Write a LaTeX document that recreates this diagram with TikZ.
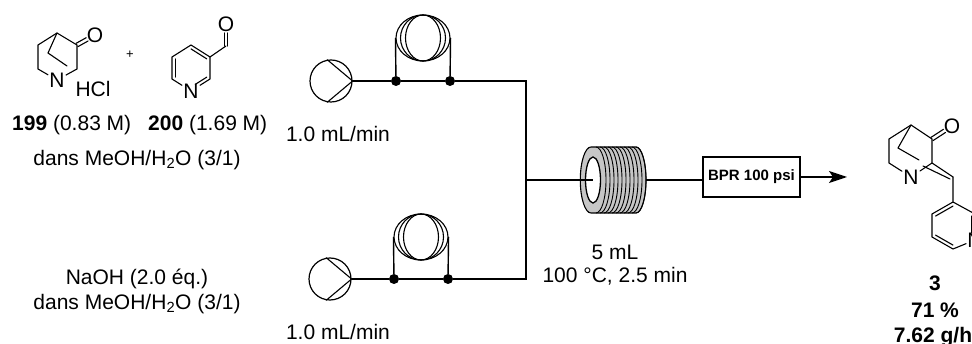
\documentclass[tikz,border=0pt]{standalone}
\usepackage{fontspec}
\setmainfont{Liberation Sans}
\usetikzlibrary{shapes.geometric, arrows.meta, positioning, calc}

% double bond to an atom label, both lines off the axis
\newcommand{\dblbond}[2]{%
  \draw[bond, shorten >=9pt] ($(#1)!1.9pt!90:(#2)$) -- ($(#2)!1.9pt!-90:(#1)$);
  \draw[bond, shorten >=9pt] ($(#1)!1.9pt!-90:(#2)$) -- ($(#2)!1.9pt!90:(#1)$);}
% inner line of a ring double bond, pulled towards the ring centre
\newcommand{\ringbond}[4][0pt]{%
  \draw[bond, shorten >=#1] ($(#3)!0.17!(#2)$) -- ($(#4)!0.17!(#2)$);}

\begin{document}
\begin{tikzpicture}[
    x=1pt, y=-1pt, on grid,
    lab/.style   = {inner sep=0pt, font=\fontsize{21}{25}\selectfont, align=center},
    atom/.style  = {inner sep=1.2pt, font=\fontsize{21}{25}\selectfont},
    bond/.style  = {line width=1.1pt, line cap=round},
    tube/.style  = {line width=1.4pt},
    pump/.style  = {draw, circle, line width=1.2pt, minimum size=42pt, inner sep=0pt},
    dot/.style   = {circle, fill=black, minimum size=10pt, inner sep=0pt},
    coil/.style  = {draw, ellipse, line width=1.1pt, minimum height=46pt, inner sep=0pt},
    arrow/.style = {-{Stealth[length=18pt, width=12pt, inset=4pt]}, line width=1.5pt}
  ]
  \useasboundingbox (0,0) rectangle (972,344);
  \fill[white] (0,0) rectangle (972,344);
  \clip (0,0) rectangle (972,344);

  % Upper pump line
  \node[pump] (pumpA) at (331,81) {};
  \node[dot, right=65pt of pumpA] (jA1) {};
  \node[dot, right=54pt of jA1] (jA2) {};
  \node[coil, minimum width=54pt, above right=43pt and 27pt of jA1] (coilA) {};
  \node[coil, minimum width=45pt, above right=43pt and 27pt of jA1] (coilAm) {};
  \node[coil, minimum width=35pt, above right=43pt and 27pt of jA1] (coilAi) {};
  \coordinate (cornerA) at (526,81);

  % Lower pump line
  \node[pump] (pumpB) at (330,279) {};
  \node[dot, right=64pt of pumpB] (jB1) {};
  \node[dot, right=54pt of jB1] (jB2) {};
  \node[coil, minimum width=54pt, above right=42pt and 27pt of jB1] (coilB) {};
  \node[coil, minimum width=45pt, above right=42pt and 27pt of jB1] (coilBm) {};
  \node[coil, minimum width=35pt, above right=42pt and 27pt of jB1] (coilBi) {};
  \coordinate (cornerB) at (526,279);

  % Pump heads
  \foreach \p in {pumpA, pumpB} {
    \draw[bond] (\p.100) -- (\p.east) -- (\p.260);
  }

  % Tubing
  \draw[tube] (pumpA.east) -- (jA1) -- (jA2) -- (cornerA) -- (cornerB) -- (jB2) -- (jB1) -- (pumpB.east);
  \draw[tube] (coilA.west) -- (jA1);
  \draw[tube] (coilA.east) -- (jA2);
  \draw[tube] (coilB.west) -- (jB1);
  \draw[tube] (coilB.east) -- (jB2);

  % Reactor
  \coordinate (mix) at (526,180);
  \coordinate (reacIn) at (593,180);
  \coordinate (reacOut) at (646,180);
  \path[fill=gray!45, draw, line width=1.1pt]
    (591,147) -- (636,147) arc (-90:90:10 and 33) -- (591,213) arc (90:270:10.7 and 33) -- cycle;
  \foreach \c in {596,600,...,636} {
    \draw[line width=0.9pt] (\c,147) arc (-90:90:10 and 33);
  }
  \draw[fill=white, line width=1.3pt] (593,180) ellipse [x radius=7.5, y radius=23];
  \draw[tube] (mix) -- (reacIn);

  % Back pressure regulator
  \node[draw, line width=1.2pt, minimum width=97pt, minimum height=40pt, inner sep=0pt,
        font=\fontsize{15}{18}\selectfont\bfseries] (bpr) at (751.5,177) {BPR 100 psi};
  \draw[tube] (reacOut) -- (bpr.west |- reacOut);
  \coordinate (arrowEnd) at (847,177);
  \draw[arrow] (bpr.east) -- (arrowEnd);

  % Labels
  \node[lab, anchor=west] (lblA) at (12,125) {\textbf{199} (0.83 M)};
  \node[lab, anchor=west] (lblB) at (148,125) {\textbf{200} (1.69 M)};
  \node[lab] (lblSolvA) at (137,160) {dans MeOH/H\textsubscript{2}O (3/1)};
  \node[lab] (lblBase) at (137,279) {NaOH (2.0 éq.)};
  \node[lab] (lblSolvB) at (137,304) {dans MeOH/H\textsubscript{2}O (3/1)};
  \node[lab] (lblFlowA) at (338,134) {1.0 mL/min};
  \node[lab] (lblFlowB) at (338,332) {1.0 mL/min};
  \node[lab] (lblVol) at (615,252) {5 mL};
  \node[lab, below=24pt of lblVol] (lblCond) {100 °C, 2.5 min};
  \node[lab, font=\fontsize{21}{25}\selectfont\bfseries] (lblNum) at (935,283) {3};
  \node[lab, font=\fontsize{21}{25}\selectfont\bfseries] (lblYield) at (935,310) {71 \%};
  \node[lab, font=\fontsize{21}{25}\selectfont\bfseries] (lblRate) at (933,337) {7.62 g/h};
  \node[inner sep=0pt, font=\fontsize{13}{15}\selectfont] (plus) at (130,55) {+};

  % Quinuclidinone
  \coordinate (kTop) at (57,33);
  \coordinate (kCO) at (77,45);
  \coordinate (kCb) at (77,69);
  \coordinate (kLb) at (38,69);
  \coordinate (kLt) at (38,45);
  \coordinate (kBr) at (48,53);
  \coordinate (kBe) at (67,66);
  \node[atom] (kN) at (57,80) {N};
  \node[atom] (kO) at (95,35) {O};
  \node[lab] (kHCl) at (93,89) {HCl};
  \draw[bond] (kN) -- (kCb) -- (kCO) -- (kTop) -- (kLt) -- (kLb) -- (kN);
  \draw[bond] (kTop) -- (kBr) -- (kBe);
  \dblbond{kCO}{kO}

  % Pyridine carbaldehyde
  \coordinate (aT) at (191,45);
  \coordinate (aUr) at (210,57);
  \coordinate (aLr) at (210,79);
  \coordinate (aLl) at (172,79);
  \coordinate (aUl) at (172,57);
  \coordinate (aMid) at (191,68);
  \coordinate (aCHO) at (226,46);
  \node[atom] (aN) at (191,91) {N};
  \node[atom] (aO) at (226,24) {O};
  \draw[bond] (aN) -- (aLl) -- (aUl) -- (aT) -- (aUr) -- (aLr) -- (aN);
  \draw[bond] (aUr) -- (aCHO);
  \dblbond{aCHO}{aO}
  \ringbond{aMid}{aUl}{aLl}
  \ringbond{aMid}{aT}{aUr}
  \ringbond[5pt]{aMid}{aLr}{aN}

  % Product
  \coordinate (pTop) at (911,125);
  \coordinate (pCO) at (932,139);
  \coordinate (pC2) at (932,163);
  \coordinate (pLb) at (889,163);
  \coordinate (pLt) at (889,139);
  \coordinate (pBr) at (898,148);
  \coordinate (pBe) at (919,160);
  \coordinate (pCH) at (953,177);
  \coordinate (pDa) at (923,166);
  \coordinate (pDb) at (950,179);
  \coordinate (rT) at (953,202);
  \coordinate (rUl) at (932,214);
  \coordinate (rLl) at (932,237);
  \coordinate (rB) at (953,249);
  \coordinate (rUr) at (975,214);
  \coordinate (rMid) at (953,226);
  \node[atom] (pN) at (911,177) {N};
  \node[atom] (pO) at (952,126) {O};
  \node[atom] (rN) at (975,240) {N};
  \draw[bond] (pN) -- (pC2) -- (pCO) -- (pTop) -- (pLt) -- (pLb) -- (pN);
  \draw[bond] (pTop) -- (pBr) -- (pBe);
  \dblbond{pCO}{pO}
  \draw[bond] (pC2) -- (pCH);
  \draw[bond] (pDa) -- (pDb);
  \draw[bond] (pCH) -- (rT) -- (rUl) -- (rLl) -- (rB) -- (rN) -- (rUr) -- (rT);
  \ringbond{rMid}{rT}{rUl}
  \ringbond{rMid}{rLl}{rB}
  \ringbond[5pt]{rMid}{rUr}{rN}
\end{tikzpicture}
\end{document}
